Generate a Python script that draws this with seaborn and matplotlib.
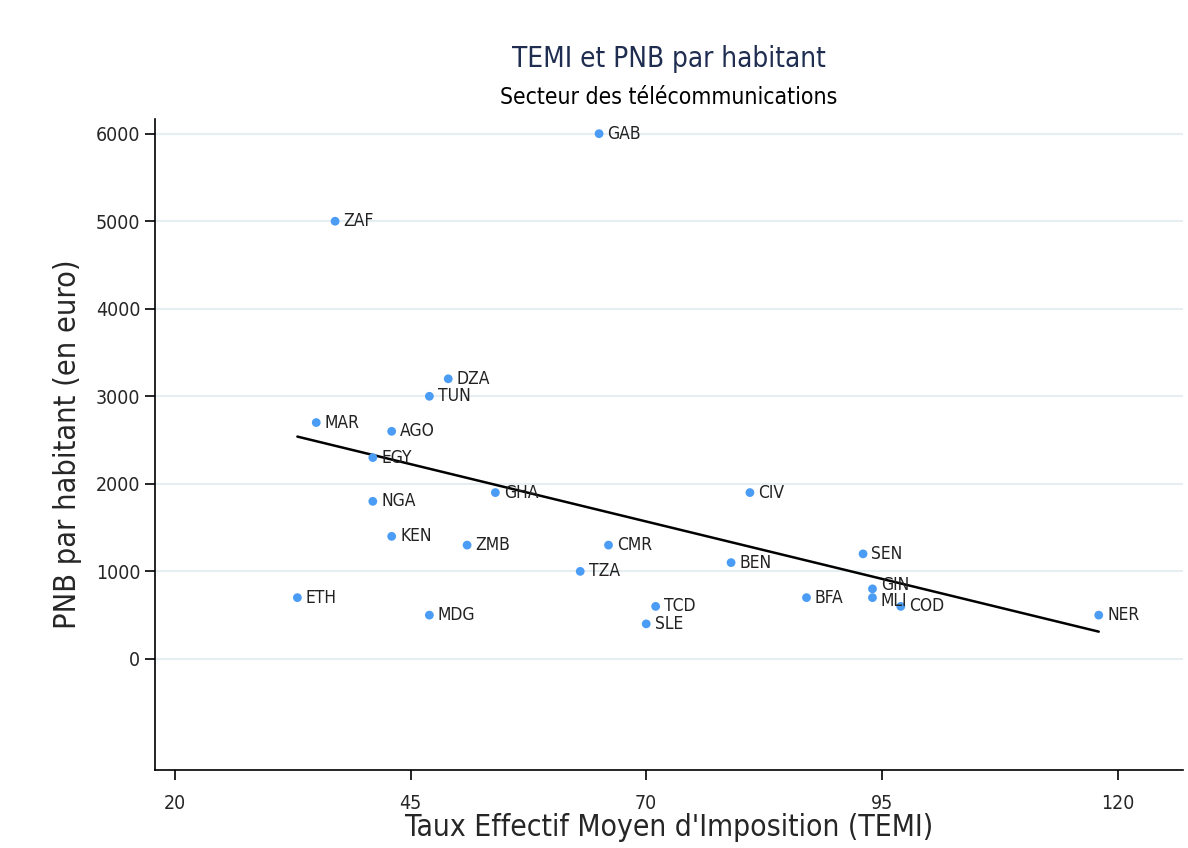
import matplotlib
matplotlib.use("Agg")
import matplotlib.pyplot as plt
import seaborn as sns
import pandas as pd

countries = ["GAB", "ZAF", "DZA", "TUN", "MAR", "AGO", "EGY", "NGA", "GHA", "KEN",
             "ZMB", "ETH", "MDG", "CMR", "TZA", "TCD", "SLE", "BEN", "CIV", "BFA",
             "SEN", "GIN", "MLI", "COD", "NER"]
temi = [65, 37, 49, 47, 35, 43, 41, 41, 54, 43,
        51, 33, 47, 66, 63, 71, 70, 79, 81, 87,
        93, 94, 94, 97, 118]
pnb = [6000, 5000, 3200, 3000, 2700, 2600, 2300, 1800, 1900, 1400,
       1300, 700, 500, 1300, 1000, 600, 400, 1100, 1900, 700,
       1200, 800, 700, 600, 500]

x_ticks = [20, 45, 70, 95, 120]
y_ticks = [0, 1000, 2000, 3000, 4000, 5000, 6000]

df = pd.DataFrame({"pays": countries, "temi": temi, "pnb": pnb})

sns.set_style("white")
plt.rcParams["font.family"] = ["DejaVu Sans"]
plt.rcParams["font.stretch"] = "condensed"

fig = plt.figure(figsize=(11.88, 8.48), dpi=100)
ax = fig.add_axes([0.1305, 0.092, 0.865, 0.768])

# lignes de grille horizontales claires
for yt in y_ticks:
    ax.axhline(yt, color="#e6eef1", linewidth=1.5, zorder=0)

sns.scatterplot(data=df, x="temi", y="pnb", ax=ax, color="#4a9cf5",
                s=40, edgecolor="none", zorder=3)
sns.regplot(data=df, x="temi", y="pnb", ax=ax, scatter=False, ci=None,
            line_kws={"color": "black", "linewidth": 1.8, "zorder": 2})

# petit décalage vertical pour GIN / MLI qui se chevauchent
nudge = {"GIN": 2.5, "MLI": -2.5}
for _, row in df.iterrows():
    ax.annotate(row["pays"], (row["temi"], row["pnb"]),
                xytext=(6, nudge.get(row["pays"], 0)),
                textcoords="offset points", va="center", ha="left",
                fontsize=12.5, color="#222222", zorder=4)

ax.set_xlim(17.9, 126.9)
ax.set_ylim(-1269, 6171)
ax.set_xticks(x_ticks)
ax.set_yticks(y_ticks)
ax.tick_params(axis="both", direction="out", length=7, width=1.2,
               labelsize=14, color="black", left=True, bottom=True)
ax.tick_params(axis="x", pad=10)
sns.despine(ax=ax)
for s in ["left", "bottom"]:
    ax.spines[s].set_color("black")
    ax.spines[s].set_linewidth(1.2)

ax.set_xlabel("Taux Effectif Moyen d'Imposition (TEMI)", fontsize=21.5, labelpad=0)
ax.set_ylabel("PNB par habitant (en euro)", fontsize=22, labelpad=10)

fig.text(0.563, 0.931, "TEMI et PNB par habitant", ha="center", va="center",
         fontsize=20, color="#1e2d50")
fig.text(0.563, 0.885, "Secteur des télécommunications", ha="center", va="center",
         fontsize=16.5, color="black")

plt.savefig("out.png", dpi=100)
